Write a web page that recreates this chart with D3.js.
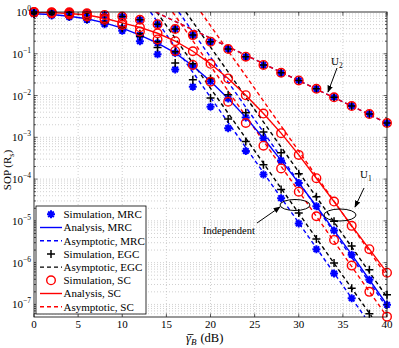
<!DOCTYPE html>
<html>
<head>
<meta charset="utf-8">
<script src="https://cdnjs.cloudflare.com/ajax/libs/d3/7.8.5/d3.min.js"></script>
<style>
  body { margin: 0; background: #fff }
  svg { display: block }
  text { font-family: "Liberation Serif", "Times New Roman", serif; fill: #000 }
</style>
</head>
<body>
<div id="chart"></div>
<script>
// average SNR of Bob (dB), one sample every 2 dB
const snr = [0, 2, 4, 6, 8, 10, 12, 14, 16, 18, 20, 22, 24, 26, 28, 30, 32, 34, 36, 38, 40]

// U2: MRC, EGC and SC give the same SOP
const sopU2 = [1.0, 0.99, 0.98, 0.93, 0.85, 0.78, 0.65, 0.51, 0.39, 0.28, 0.195, 0.13, 0.085, 0.054, 0.035, 0.023, 0.0145, 0.0091, 0.0056, 0.0036, 0.0022]

// U1, correlated branches
const sopMRC = [0.91, 0.87, 0.79, 0.69, 0.55, 0.41, 0.28, 0.18, 0.105, 0.051, 0.0219, 8.5e-3, 3.0e-3, 9.5e-4, 2.8e-4, 8.1e-5, 2.24e-5, 5.9e-6, 1.55e-6, 3.9e-7, 9.8e-8]
const sopEGC = [0.93, 0.89, 0.81, 0.71, 0.575, 0.43, 0.30, 0.195, 0.112, 0.0575, 0.0257, 0.0105, 3.9e-3, 1.35e-3, 4.3e-4, 1.35e-4, 3.8e-5, 9.8e-6, 2.5e-6, 6.8e-7, 1.7e-7]
const sopSC = [0.99, 0.966, 0.92, 0.85, 0.71, 0.55, 0.43, 0.31, 0.20, 0.115, 0.0575, 0.0257, 0.0102, 3.7e-3, 1.26e-3, 3.8e-4, 1.05e-4, 2.9e-5, 7.6e-6, 2.1e-6, 5.75e-7]

// U1, independent branches
const sopMRCInd = [0.89, 0.83, 0.76, 0.65, 0.51, 0.355, 0.20, 0.098, 0.042, 0.0162, 5.4e-3, 1.66e-3, 4.7e-4, 1.29e-4, 3.5e-5, 8.7e-6, 2.1e-6, 5.5e-7, 1.41e-7, 3.5e-8, 8.9e-9]
const sopEGCInd = [0.91, 0.87, 0.79, 0.68, 0.55, 0.41, 0.26, 0.141, 0.060, 0.024, 8.7e-3, 2.75e-3, 7.9e-4, 2.2e-4, 5.6e-5, 1.55e-5, 3.7e-6, 9.8e-7, 2.45e-7, 6.0e-8, 1.6e-8]
const sopSCInd = [0.98, 0.93, 0.87, 0.78, 0.65, 0.49, 0.34, 0.22, 0.117, 0.054, 0.0214, 7.1e-3, 2.2e-3, 6.3e-4, 1.8e-4, 5.0e-5, 1.29e-5, 3.5e-6, 8.5e-7, 2.0e-7, 5.1e-8]

// asymptotes: straight lines, [snr, sop] at both ends
const asymU2 = [[13.8, 1], [40, 2.2e-3]]
const asymMRCInd = [[13.2, 1], [37.5, 5e-8]]
const asymEGCInd = [[13.9, 1], [38.3, 5e-8]]
const asymSCInd = [[15.7, 1], [40, 5.1e-8]]
const asymMRC = [[16.4, 1], [40, 8.5e-8]]
const asymEGC = [[17.2, 1], [40, 1.5e-7]]
const asymSC = [[18.9, 1], [40, 4.7e-7]]

const xTicks = [0, 5, 10, 15, 20, 25, 30, 35, 40]
const yExps = [-7, -6, -5, -4, -3, -2, -1, 0]

const legendLabels = ["Simulation, MRC", "Analysis, MRC", "Asymptotic, MRC", "Simulation, EGC",
  "Asymptotic, EGC", "Simulation, SC", "Analysis, SC", "Asymptotic, SC"]

const width = 399, height = 348
const pLeft = 34, pRight = 387, pTop = 12, pBottom = 317
const blue = "#0000ff", red = "#ff0000"

const svg = d3.select("#chart").append("svg").attr("width", width).attr("height", height)

const x = d3.scaleLinear().domain([0, 40]).range([pLeft, pRight])
const y = d3.scaleLog().domain([5e-8, 1]).range([pBottom, pTop])

// grid
const minorVals = []
for (let e = -8; e < 0; e++) {
  for (let m = 1; m <= 9; m++) {
    const v = m * Math.pow(10, e)
    if (v > 5e-8 && v < 1) minorVals.push(v)
  }
}
const grid = svg.append("g").attr("stroke", "#b0b0b0").attr("stroke-width", 0.6).attr("stroke-dasharray", "1,2")
grid.selectAll(".gy").data(minorVals).enter().append("line")
  .attr("x1", pLeft).attr("x2", pRight).attr("y1", d => y(d)).attr("y2", d => y(d))
grid.selectAll(".gx").data(xTicks.slice(1, -1)).enter().append("line")
  .attr("y1", pTop).attr("y2", pBottom).attr("x1", d => x(d)).attr("x2", d => x(d))

const plot = svg.append("g")
svg.append("clipPath").attr("id", "clip").append("rect")
  .attr("x", pLeft).attr("y", pTop).attr("width", pRight - pLeft).attr("height", pBottom - pTop)

const line = d3.line().x(d => x(d[0])).y(d => y(d[1]))
const lines = plot.append("g").attr("clip-path", "url(#clip)").attr("fill", "none")

function dashed(pts, color) {
  lines.append("path").attr("d", line(pts)).attr("stroke", color)
    .attr("stroke-width", 1.4).attr("stroke-dasharray", "4,3")
}
function solid(vals, color) {
  lines.append("path").attr("d", line(snr.map((s, i) => [s, vals[i]]))).attr("stroke", color)
    .attr("stroke-width", 1.4)
}

dashed(asymMRCInd, blue)
dashed(asymEGCInd, "#000")
dashed(asymSCInd, red)
dashed(asymMRC, blue)
dashed(asymEGC, "#000")
dashed(asymSC, red)
dashed(asymU2, blue)
dashed(asymU2, red)
solid(sopMRC, blue)
solid(sopSC, red)

// markers
const starPath = "M-4,0L4,0M0,-4L0,4M-2.8,-2.8L2.8,2.8M-2.8,2.8L2.8,-2.8"
const plusPath = "M-4,0L4,0M0,-4L0,4"

function pts(vals) {
  return snr.map((s, i) => [s, vals[i]]).filter(d => d[1] >= 5e-8)
}
function stars(vals) {
  plot.append("g").selectAll("path").data(pts(vals)).enter().append("path")
    .attr("d", starPath).attr("transform", d => `translate(${x(d[0])},${y(d[1])})`)
    .attr("stroke", blue).attr("stroke-width", 2)
}
function pluses(vals) {
  plot.append("g").selectAll("path").data(pts(vals)).enter().append("path")
    .attr("d", plusPath).attr("transform", d => `translate(${x(d[0])},${y(d[1])})`)
    .attr("stroke", "#000").attr("stroke-width", 1.5)
}
function circles(vals) {
  plot.append("g").selectAll("circle").data(pts(vals)).enter().append("circle")
    .attr("cx", d => x(d[0])).attr("cy", d => y(d[1])).attr("r", 4.3)
    .attr("fill", "none").attr("stroke", red).attr("stroke-width", 1.4)
}

;[sopU2, sopMRC, sopMRCInd].forEach(stars)
;[sopU2, sopEGC, sopEGCInd].forEach(pluses)
;[sopU2, sopSC, sopSCInd].forEach(circles)

// frame and ticks
svg.append("rect").attr("x", pLeft).attr("y", pTop).attr("width", pRight - pLeft).attr("height", pBottom - pTop)
  .attr("fill", "none").attr("stroke", "#000").attr("stroke-width", 0.8)

const ticks = svg.append("g").attr("stroke", "#000").attr("stroke-width", 0.6)
xTicks.forEach(t => {
  ticks.append("line").attr("x1", x(t)).attr("x2", x(t)).attr("y1", pBottom).attr("y2", pBottom - 3.5)
  ticks.append("line").attr("x1", x(t)).attr("x2", x(t)).attr("y1", pTop).attr("y2", pTop + 3.5)
})
minorVals.forEach(v => {
  const major = Math.abs(Math.log10(v) - Math.round(Math.log10(v))) < 1e-9
  const len = major ? 3.5 : 2
  ticks.append("line").attr("x1", pLeft).attr("x2", pLeft + len).attr("y1", y(v)).attr("y2", y(v))
  ticks.append("line").attr("x1", pRight).attr("x2", pRight - len).attr("y1", y(v)).attr("y2", y(v))
})

svg.append("g").selectAll("text").data(xTicks).enter().append("text")
  .attr("x", d => x(d)).attr("y", 327.5).attr("text-anchor", "middle")
  .attr("font-size", 11).text(d => d)

const yl = svg.append("g").selectAll("text").data(yExps).enter().append("text")
  .attr("x", 31).attr("y", d => y(Math.pow(10, d)) + 4).attr("text-anchor", "end")
  .attr("font-size", 11)
yl.append("tspan").text("10")
yl.append("tspan").attr("dy", -5).attr("font-size", 7.5).text(d => d === 0 ? "0" : "\u2212" + (-d))

// axis titles
const xt = svg.append("text").attr("x", 186).attr("y", 342).attr("font-size", 12.5)
xt.append("tspan").attr("font-style", "italic").text("\u03b3")
xt.append("tspan").attr("font-style", "italic").attr("font-size", 9).attr("dy", 3).text("B")
xt.append("tspan").attr("dy", -3).attr("dx", 4).text("(dB)")
svg.append("line").attr("x1", 187.5).attr("x2", 193.5).attr("y1", 334.5).attr("y2", 334.5)
  .attr("stroke", "#000").attr("stroke-width", 0.8)

const yt = svg.append("text").attr("transform", "translate(11,170) rotate(-90)")
  .attr("text-anchor", "middle").attr("font-size", 11)
yt.append("tspan").text("SOP (R")
yt.append("tspan").attr("font-size", 8).attr("dy", 3).text("s")
yt.append("tspan").attr("dy", -3).text(")")

// annotations
const ann = svg.append("g")
ann.append("defs").append("marker").attr("id", "arr").attr("viewBox", "0 0 10 10")
  .attr("refX", 9).attr("refY", 5).attr("markerWidth", 7).attr("markerHeight", 7).attr("orient", "auto")
  .append("path").attr("d", "M0,1L10,5L0,9z").attr("fill", "#000")

function arrow(x1, y1, x2, y2) {
  ann.append("line").attr("x1", x1).attr("y1", y1).attr("x2", x2).attr("y2", y2)
    .attr("stroke", "#000").attr("stroke-width", 1).attr("marker-end", "url(#arr)")
}
ann.append("ellipse").attr("cx", 295).attr("cy", 205).attr("rx", 15).attr("ry", 5.5)
  .attr("fill", "none").attr("stroke", "#000").attr("stroke-width", 1)
ann.append("ellipse").attr("cx", 340).attr("cy", 215).attr("rx", 16).attr("ry", 6)
  .attr("fill", "none").attr("stroke", "#000").attr("stroke-width", 1)
arrow(257, 223, 280, 207)
arrow(364, 188, 355, 207)
arrow(337, 68, 328, 92)

ann.append("text").attr("x", 203).attr("y", 234).attr("font-size", 10.5).text("Independent")
const u1 = ann.append("text").attr("x", 360).attr("y", 178).attr("font-size", 11)
u1.append("tspan").text("U")
u1.append("tspan").attr("font-size", 7.5).attr("dy", 3).text("1")
const u2 = ann.append("text").attr("x", 331).attr("y", 65).attr("font-size", 11)
u2.append("tspan").text("U")
u2.append("tspan").attr("font-size", 7.5).attr("dy", 3).text("2")

// legend
const lg = svg.append("g")
lg.append("rect").attr("x", 36).attr("y", 206).attr("width", 110).attr("height", 108)
  .attr("fill", "#fff").attr("stroke", "#000").attr("stroke-width", 0.8)
const legendStyle = [
  { type: "star", color: blue }, { type: "solid", color: blue }, { type: "dash", color: blue },
  { type: "plus", color: "#000" }, { type: "dash", color: "#000" },
  { type: "circle", color: red }, { type: "solid", color: red }, { type: "dash", color: red }
]
legendLabels.forEach((label, i) => {
  const cy = 214.3 + i * 13.2
  const st = legendStyle[i]
  if (st.type === "solid" || st.type === "dash") {
    lg.append("line").attr("x1", 40).attr("x2", 62).attr("y1", cy).attr("y2", cy)
      .attr("stroke", st.color).attr("stroke-width", 1.4)
      .attr("stroke-dasharray", st.type === "dash" ? "4,3" : null)
  } else if (st.type === "star") {
    lg.append("path").attr("d", starPath).attr("transform", `translate(51,${cy})`)
      .attr("stroke", blue).attr("stroke-width", 2)
  } else if (st.type === "plus") {
    lg.append("path").attr("d", plusPath).attr("transform", `translate(51,${cy})`)
      .attr("stroke", "#000").attr("stroke-width", 1.5)
  } else {
    lg.append("circle").attr("cx", 51).attr("cy", cy).attr("r", 4.3)
      .attr("fill", "none").attr("stroke", red).attr("stroke-width", 1.4)
  }
  lg.append("text").attr("x", 63.5).attr("y", cy + 3.8).attr("font-size", 11).text(label)
})
</script>
</body>
</html>
